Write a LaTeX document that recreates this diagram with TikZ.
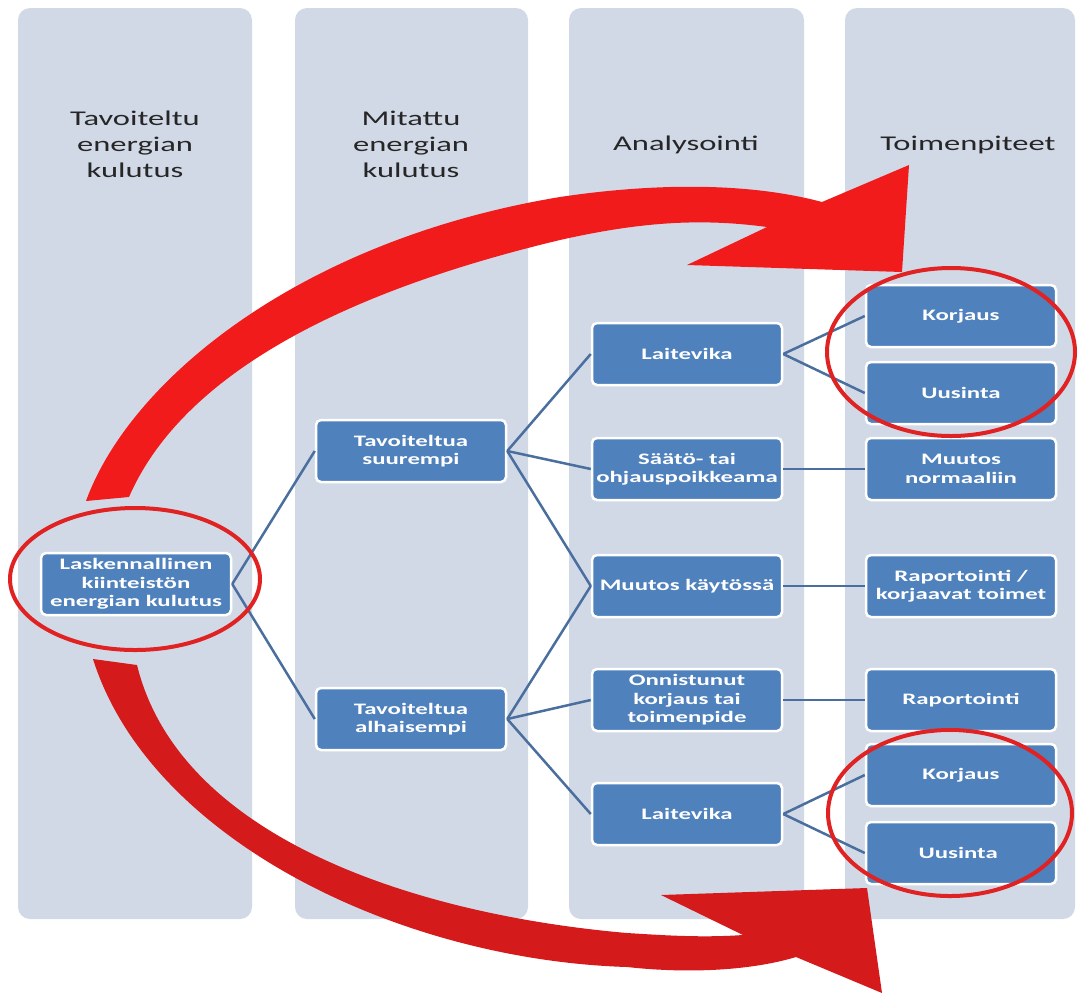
\documentclass[tikz,border=0pt]{standalone}
\usepackage{fontspec}
\setmainfont{Carlito}[FakeStretch=1.55]
\definecolor{panelgray}{HTML}{D1D9E7}
\definecolor{boxblue}{HTML}{4F81BD}
\definecolor{linkblue}{HTML}{4A6E9E}
\definecolor{headgray}{HTML}{262626}
\definecolor{ringred}{HTML}{E02222}
\definecolor{arrowred}{HTML}{F21B1B}
\definecolor{arrowdark}{HTML}{D41A1A}

\begin{document}
\begin{tikzpicture}[
    x=1pt, y=-1pt,
    panel/.style={fill=panelgray, rounded corners=12pt},
    head/.style={text=headgray, align=center, font=\fontsize{21}{26}\selectfont},
    box/.style={fill=boxblue, draw=white, line width=2.5pt, rounded corners=5pt,
        minimum width=190pt, minimum height=62pt, inner sep=2pt, align=center,
        text=white, font=\fontsize{16}{18.5}\selectfont\bfseries},
    link/.style={draw=linkblue, line width=2.5pt},
    ring/.style={draw=ringred, line width=4pt}
]
\useasboundingbox (0,0) rectangle (1078,994);

% Sarakkeet taustalla
\foreach \xa/\xb in {18/252, 295/528, 569/804, 845/1075} {
    \fill[panel] (\xa,8) rectangle (\xb,919);
}

% Otsikot
\node[head] (h1) at (135,144) {Tavoiteltu\\energian\\kulutus};
\node[head] (h2) at (411,144) {Mitattu\\energian\\kulutus};
\node[head] (h3) at (686,145) {Analysointi};
\node[head] (h4) at (968,145) {Toimenpiteet};

% Laatikot: nimi, x, y, teksti
\foreach \name/\x/\y/\txt in {
    lask/136/584/{Laskennallinen\\kiinteistön\\energian kulutus},
    suur/411/451/{Tavoiteltua\\suurempi},
    alha/411/719/{Tavoiteltua\\alhaisempi},
    vika1/687/354/{Laitevika},
    saato/687/469/{Säätö- tai\\ohjauspoikkeama},
    kaytto/687/586/{Muutos käytössä},
    onn/687/700/{Onnistunut\\korjaus tai\\toimenpide},
    vika2/687/814/{Laitevika},
    korj1/961/316/{Korjaus},
    uus1/961/393/{Uusinta},
    norm/961/469/{Muutos\\normaaliin},
    rap1/961/586/{Raportointi /\\korjaavat toimet},
    rap2/961/700/{Raportointi},
    korj2/961/775/{Korjaus},
    uus2/961/853/{Uusinta}
} {
    \node[box] (\name) at (\x,\y) {\txt};
}

% Yhteydet
\foreach \a/\b in {lask/suur, lask/alha, suur/vika1, suur/saato, suur/kaytto,
    alha/kaytto, alha/onn, alha/vika2, vika1/korj1, vika1/uus1, saato/norm,
    kaytto/rap1, onn/rap2, vika2/korj2, vika2/uus2} {
    \draw[link] (\a.east) -- (\b.west);
}

% Punainen nuoli ylhäällä
\fill[arrowred] (86,501) .. controls (130,380) and (300,240) .. (560,197)
    .. controls (640,185) and (740,180) .. (822,202)
    -- (909,165) -- (902,272) -- (687,265) -- (767,227)
    .. controls (700,218) and (640,222) .. (560,240)
    .. controls (330,295) and (180,380) .. (129,497) -- cycle;

% Punainen nuoli alhaalla
\fill[arrowdark] (93,659) .. controls (150,840) and (400,960) .. (627,967)
    .. controls (700,975) and (760,968) .. (796,957)
    -- (882,993) -- (867,888) -- (661,895) -- (743,935)
    .. controls (700,938) and (660,935) .. (627,933)
    .. controls (420,915) and (180,840) .. (137,665) -- cycle;

% Renkaat
\draw[ring] (135,579) ellipse [x radius=125, y radius=71];
\draw[ring] (951,352) ellipse [x radius=124, y radius=84];
\draw[ring] (950,813) ellipse [x radius=122, y radius=83];
\end{tikzpicture}
\end{document}
